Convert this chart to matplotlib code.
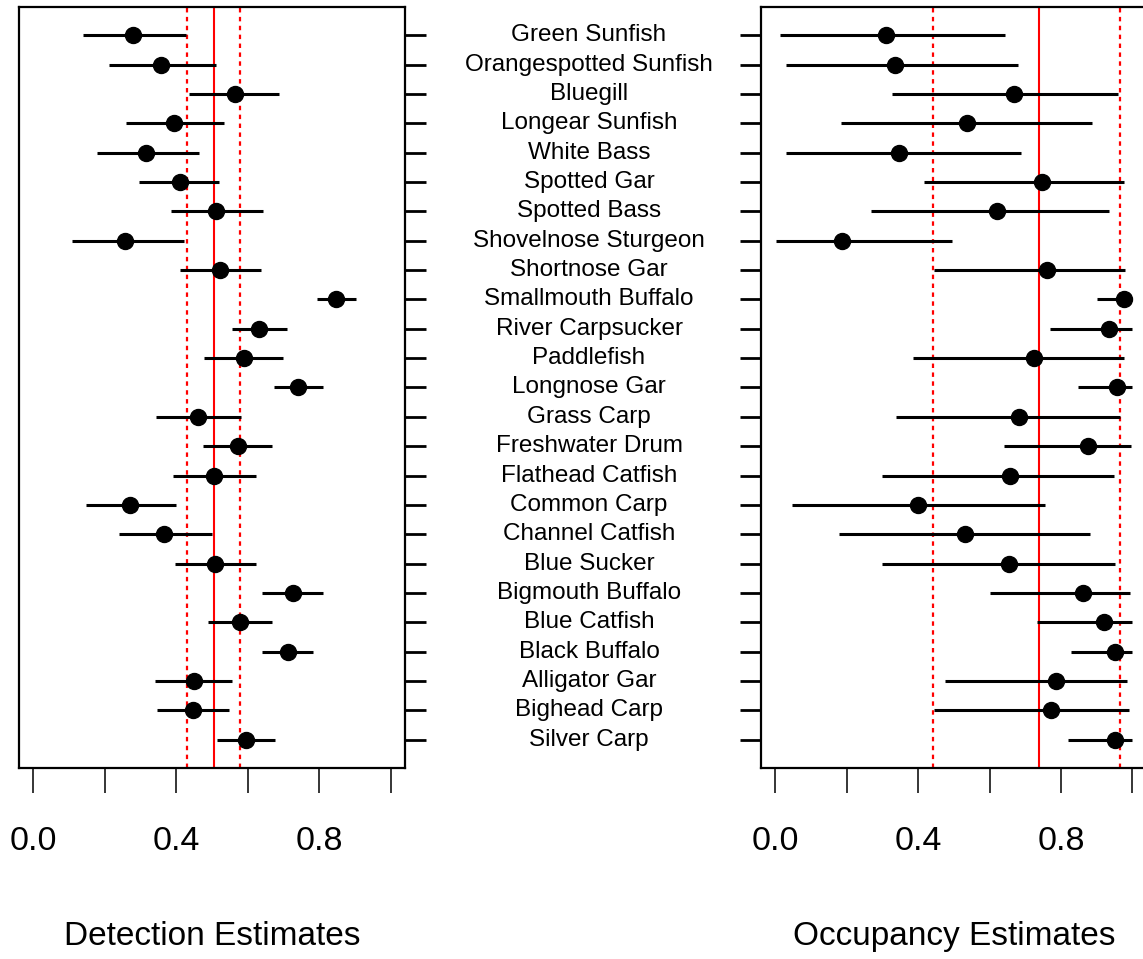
import matplotlib.pyplot as plt
from matplotlib.transforms import blended_transform_factory

plt.rcParams['font.family'] = ['Liberation Sans', 'DejaVu Sans']

species = ['Green Sunfish', 'Orangespotted Sunfish', 'Bluegill', 'Longear Sunfish',
           'White Bass', 'Spotted Gar', 'Spotted Bass', 'Shovelnose Sturgeon',
           'Shortnose Gar', 'Smallmouth Buffalo', 'River Carpsucker', 'Paddlefish',
           'Longnose Gar', 'Grass Carp', 'Freshwater Drum', 'Flathead Catfish',
           'Common Carp', 'Channel Catfish', 'Blue Sucker', 'Bigmouth Buffalo',
           'Blue Catfish', 'Black Buffalo', 'Alligator Gar', 'Bighead Carp', 'Silver Carp']

# detection probability: estimate and interval
det_est = [0.279, 0.358, 0.563, 0.395, 0.315, 0.410, 0.512, 0.256, 0.523, 0.847,
           0.631, 0.589, 0.741, 0.462, 0.574, 0.506, 0.271, 0.366, 0.509, 0.727,
           0.578, 0.712, 0.449, 0.447, 0.594]
det_lo = [0.140, 0.213, 0.436, 0.260, 0.178, 0.296, 0.384, 0.109, 0.411, 0.793,
          0.555, 0.477, 0.673, 0.343, 0.475, 0.392, 0.147, 0.240, 0.396, 0.641,
          0.488, 0.640, 0.340, 0.345, 0.513]
det_hi = [0.427, 0.512, 0.688, 0.533, 0.465, 0.519, 0.642, 0.422, 0.638, 0.902,
          0.710, 0.699, 0.811, 0.581, 0.669, 0.623, 0.398, 0.499, 0.622, 0.811,
          0.668, 0.782, 0.555, 0.548, 0.677]

# occupancy probability: estimate and interval
occ_est = [0.310, 0.336, 0.668, 0.537, 0.346, 0.747, 0.621, 0.186, 0.761, 0.976,
           0.934, 0.723, 0.957, 0.682, 0.876, 0.656, 0.400, 0.531, 0.655, 0.861,
           0.920, 0.951, 0.785, 0.771, 0.952]
occ_lo = [0.012, 0.029, 0.327, 0.183, 0.031, 0.415, 0.268, 0.002, 0.445, 0.901,
          0.769, 0.385, 0.847, 0.338, 0.641, 0.300, 0.046, 0.177, 0.300, 0.600,
          0.734, 0.829, 0.475, 0.445, 0.820]
occ_hi = [0.644, 0.680, 0.959, 0.888, 0.689, 0.977, 0.935, 0.494, 0.979, 1.0,
          1.0, 0.975, 1.0, 0.965, 0.997, 0.948, 0.754, 0.881, 0.950, 0.993,
          1.0, 1.0, 0.985, 0.989, 1.0]

# mean and bounds drawn as reference lines
det_ref = [0.431, 0.505, 0.577]
occ_ref = [0.441, 0.739, 0.965]

n = len(species)
ypos = list(range(n, 0, -1))

fig = plt.figure(figsize=(11.43, 9.59), dpi=100)
ax1 = fig.add_axes([0.01662, 0.1992, 0.3377, 0.7935])
ax2 = fig.add_axes([0.6658, 0.1992, 0.3375, 0.7935])


def panel(ax, est, lo, hi, ref, side, xlabel):
    ax.hlines(ypos, lo, hi, color='black', lw=2.2, zorder=2)
    ax.plot(est, ypos, 'o', color='black', ms=11.5, zorder=3)
    ax.axvline(ref[1], color='#ff0000', lw=1.5, zorder=1)
    for r in (ref[0], ref[2]):
        ax.axvline(r, color='#ff0000', lw=1.6, ls=(0, (2, 2)), zorder=1)
    ax.set_xlim(-0.04, 1.04)
    ax.set_ylim(1 - 0.96, n + 0.96)
    ax.set_xticks([0.0, 0.2, 0.4, 0.6, 0.8, 1.0])
    ax.set_xticklabels(['0.0', '', '0.4', '', '0.8', ''])
    ax.tick_params(axis='x', length=18, width=1.1, pad=24, labelsize=24.5)
    ax.set_yticks(ypos)
    ax.set_yticklabels([])
    if side == 'right':
        ax.yaxis.tick_right()
    ax.tick_params(axis='y', length=15, width=2)
    for sp in ax.spines.values():
        sp.set_linewidth(1.6)
    ax.set_xlabel(xlabel, fontsize=24)
    ax.xaxis.set_label_coords(0.5, -0.222)
    ax.xaxis.label.set_va('center')


panel(ax1, det_est, det_lo, det_hi, det_ref, 'right', 'Detection Estimates')
panel(ax2, occ_est, occ_lo, occ_hi, occ_ref, 'left', 'Occupancy Estimates')

# species names between the two panels
tr = blended_transform_factory(fig.transFigure, ax1.transData)
for name, y in zip(species, ypos):
    fig.text(589 / 1143, y, name, transform=tr, ha='center', va='center', fontsize=17.5)

fig.savefig('out.png', dpi=100)
